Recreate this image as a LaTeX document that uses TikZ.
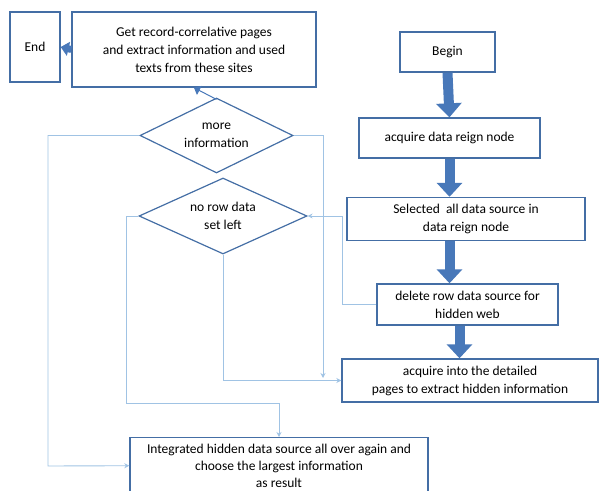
\documentclass[tikz,border=0pt]{standalone}
\usepackage{fontspec}
\setmainfont{Carlito}
\usetikzlibrary{shapes.geometric,arrows.meta,calc}
\definecolor{boxc}{RGB}{68,110,165}
\definecolor{fatc}{RGB}{72,120,185}
\definecolor{thinc}{RGB}{160,195,228}
\tikzset{
  box/.style={draw=boxc,line width=1.4pt,fill=white,align=center,inner sep=0pt,font=\fontsize{13.5}{18}\selectfont},
  dec/.style={diamond,draw=boxc,line width=1.2pt,align=center,inner sep=0pt,aspect=2,font=\fontsize{13.5}{18}\selectfont},
  fat/.style={draw=fatc,line width=10pt,-{Triangle[length=14pt,width=25pt]}},
  fatsmall/.style={draw=fatc,line width=7pt,-{Triangle[length=8pt,width=14pt]}},
  conn/.style={draw=thinc,line width=0.9pt},
  conna/.style={conn,-{Stealth[length=5pt,width=5pt]}}
}
\begin{document}
\begin{tikzpicture}[x=1pt,y=-1pt]
\useasboundingbox (0,0) rectangle (599,490);
\node[box,minimum width=50pt,minimum height=70pt] (end) at (35,47) {End};
\node[box,minimum width=244pt,minimum height=75pt] (get) at (194,49.5) {Get record-correlative pages\\and extract information and used\\texts from these sites};
\node[box,minimum width=95pt,minimum height=40pt] (begin) at (447.5,52) {Begin};
\node[box,minimum width=181pt,minimum height=40pt] (acq) at (449.5,138) {acquire data reign node};
\node[box,minimum width=238pt,minimum height=43pt] (sel) at (466,219) {Selected~ all data source in\\data reign node};
\node[box,minimum width=181pt,minimum height=41pt] (del) at (467.5,304.5) {delete row data source for\\hidden web};
\node[box,minimum width=256pt,minimum height=43pt] (into) at (470,380.5) {acquire into the detailed\\pages to extract hidden information};
\node[box,minimum width=298pt,minimum height=56pt,anchor=north,font=\fontsize{13.5}{17}\selectfont] (integ) at (279,437) {Integrated hidden data source all over again and\\choose the largest information\\as result};
\node[dec,minimum width=153pt,minimum height=75pt] (mi) at (216.5,135.5) {more\\information};
\node[dec,minimum width=168pt,minimum height=76pt] (nr) at (223,216) {no row data\\set left};
\coordinate (c1) at (48,466);
\coordinate (c2) at (323,378);
\coordinate (c3) at (342,304.5);
\coordinate (c4) at (126,403);
% thin connectors
\draw[conna] (mi.west) -| (c1) -- (integ.west);
\draw[conna] (mi.east) -| (c2);
\draw[conna] (nr.south) |- (into.west);
\draw[conna] (del.west) -- (c3) |- (nr.east);
\draw[conna] (nr.west) -| (c4) -| (integ.north);
\draw[draw=fatc,line width=1pt,-{Triangle[length=6pt,width=10pt]}] ($(mi.north)+(0,2)$) -- (get.south);
% fat arrows
\draw[fat] (begin.south) -- (acq.north);
\draw[fat] (acq.south) -- (sel.north -| acq.south);
\draw[fat] (sel.south -| acq.south) -- (del.north -| acq.south);
\draw[fat] ($(del.south)+(-8,0)$) -- ($(into.north)+(-10.5,0)$);
\draw[fatsmall] (get.west) -- (end.east);
\end{tikzpicture}
\end{document}
